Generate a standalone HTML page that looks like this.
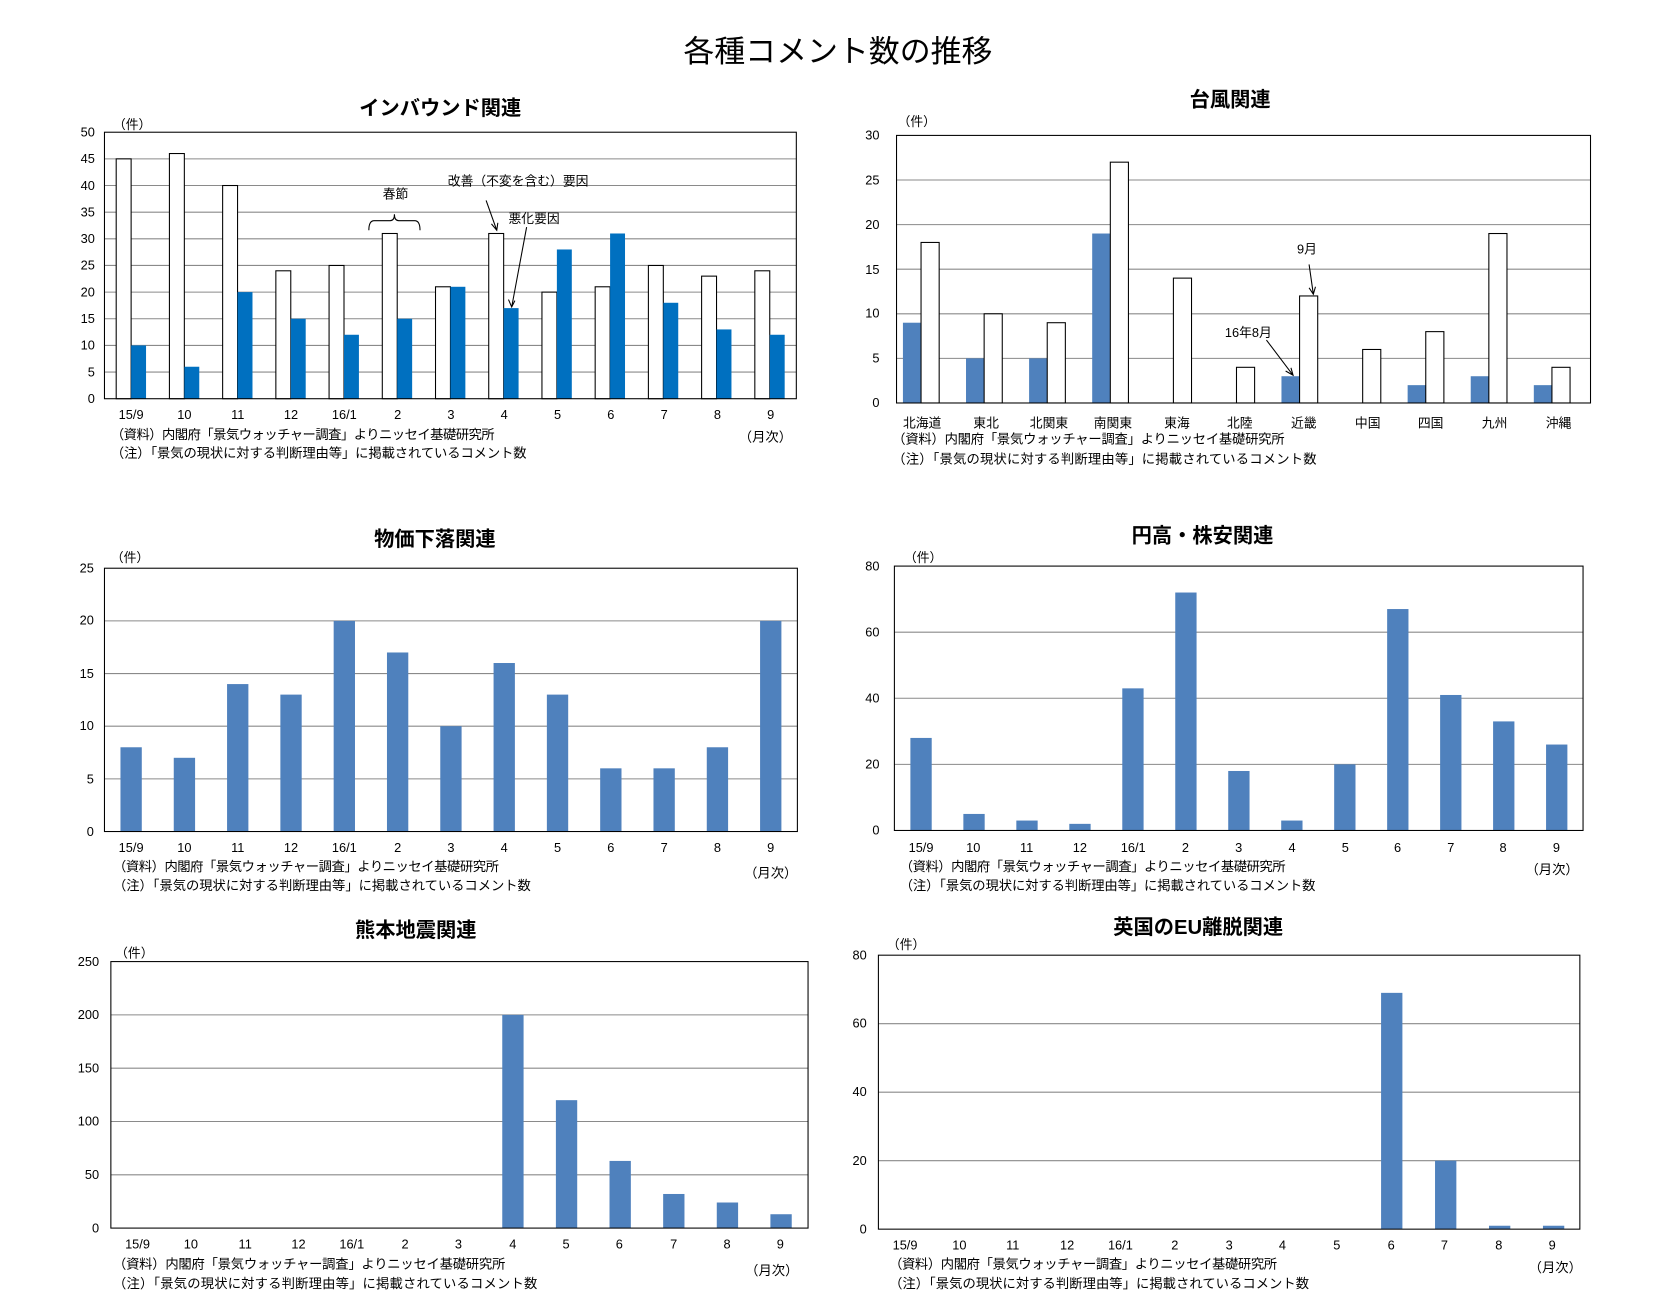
<!DOCTYPE html>
<html><head><meta charset="utf-8">
<style>
html,body{margin:0;padding:0;background:#fff;}
svg{display:block;}
text{font-family:"Liberation Sans","Noto Sans CJK JP",sans-serif;fill:#000;}
.t{font-size:12px;}
.n{font-size:12.5px;}
.h{font-size:19px;font-weight:bold;}
</style></head><body>
<svg id="s" width="1663" height="1315" viewBox="4 0 1560 1233.5" xmlns="http://www.w3.org/2000/svg">
<rect x="0" width="1570" height="1233.5" fill="#fff"/>
<g id="g"></g>
<text x="790" y="58" font-size="29" text-anchor="middle">各種コメント数の推移</text>

<!-- Chart 1 -->
<text class="h" x="417" y="108" text-anchor="middle">インバウンド関連</text>
<text class="t" x="110" y="121">（件）</text>
<g class="t" text-anchor="end">
<text x="93" y="378">0</text><text x="93" y="353">5</text><text x="93" y="328">10</text><text x="93" y="303">15</text><text x="93" y="278">20</text><text x="93" y="253">25</text><text x="93" y="228">30</text><text x="93" y="203">35</text><text x="93" y="178">40</text><text x="93" y="153">45</text><text x="93" y="128">50</text></g>
<g class="t" text-anchor="middle">
<text x="127" y="393">15/9</text><text x="177" y="393">10</text><text x="227" y="393">11</text><text x="277" y="393">12</text><text x="327" y="393">16/1</text><text x="377" y="393">2</text><text x="427" y="393">3</text><text x="477" y="393">4</text><text x="527" y="393">5</text><text x="577" y="393">6</text><text x="627" y="393">7</text><text x="677" y="393">8</text><text x="727" y="393">9</text></g>
<text class="n" x="108" y="412" textLength="360">（資料）内閣府「景気ウォッチャー調査」よりニッセイ基礎研究所</text>
<text class="n" x="108" y="429" textLength="390">（注）「景気の現状に対する判断理由等」に掲載されているコメント数</text>
<text class="n" x="697" y="414">（月次）</text>
<text class="t" x="375" y="186" text-anchor="middle">春節</text>
<path d="M350,216 Q350,207 355,207 L370,207 Q374,207 374,201 Q374,207 378,207 L393,207 Q398,207 398,216" fill="none" stroke="#000" stroke-width="1"/>
<text class="t" x="490" y="174" text-anchor="middle">改善（不変を含む）要因</text>
<text class="t" x="505" y="209" text-anchor="middle">悪化要因</text>
<path d="M460,188 L470,216 M465,210 L470,216 L471,209" fill="none" stroke="#000" stroke-width="1"/>
<path d="M498,213 L484,288 M481,281 L484,288 L487,282" fill="none" stroke="#000" stroke-width="1"/>

<!-- Chart 2 -->
<text class="h" x="1158" y="100" text-anchor="middle">台風関連</text>
<text class="t" x="846" y="118">（件）</text>
<g class="t" text-anchor="end">
<text x="829" y="382">0</text><text x="829" y="340">5</text><text x="829" y="298">10</text><text x="829" y="257">15</text><text x="829" y="215">20</text><text x="829" y="173">25</text><text x="829" y="131">30</text></g>
<g class="t" text-anchor="middle">
<text x="869" y="401">北海道</text><text x="929" y="401">東北</text><text x="988" y="401">北関東</text><text x="1048" y="401">南関東</text><text x="1108" y="401">東海</text><text x="1167" y="401">北陸</text><text x="1227" y="401">近畿</text><text x="1287" y="401">中国</text><text x="1346" y="401">四国</text><text x="1406" y="401">九州</text><text x="1466" y="401">沖縄</text></g>
<text class="n" x="841" y="416" textLength="368">（資料）内閣府「景気ウォッチャー調査」よりニッセイ基礎研究所</text>
<text class="n" x="841" y="435" textLength="398">（注）「景気の現状に対する判断理由等」に掲載されているコメント数</text>
<text class="t" x="1230" y="238" text-anchor="middle">9月</text>
<text class="t" x="1175" y="316" text-anchor="middle">16年8月</text>
<path d="M1232,248 L1236,276 M1232,270 L1236,276 L1238,269" fill="none" stroke="#000" stroke-width="1"/>
<path d="M1192,319 L1217,352 M1210,348 L1217,352 L1215,345" fill="none" stroke="#000" stroke-width="1"/>

<!-- Chart 3 -->
<text class="h" x="412" y="512" text-anchor="middle">物価下落関連</text>
<text class="t" x="108" y="527">（件）</text>
<g class="t" text-anchor="end">
<text x="92" y="784">0</text><text x="92" y="735">5</text><text x="92" y="685">10</text><text x="92" y="636">15</text><text x="92" y="586">20</text><text x="92" y="537">25</text></g>
<g class="t" text-anchor="middle">
<text x="127" y="799">15/9</text><text x="177" y="799">10</text><text x="227" y="799">11</text><text x="277" y="799">12</text><text x="327" y="799">16/1</text><text x="377" y="799">2</text><text x="427" y="799">3</text><text x="477" y="799">4</text><text x="527" y="799">5</text><text x="577" y="799">6</text><text x="627" y="799">7</text><text x="677" y="799">8</text><text x="727" y="799">9</text></g>
<text class="n" x="110" y="817" textLength="362">（資料）内閣府「景気ウォッチャー調査」よりニッセイ基礎研究所</text>
<text class="n" x="110" y="835" textLength="392">（注）「景気の現状に対する判断理由等」に掲載されているコメント数</text>
<text class="n" x="702" y="823">（月次）</text>

<!-- Chart 4 -->
<text class="h" x="1132" y="509" text-anchor="middle">円高・株安関連</text>
<text class="t" x="852" y="527">（件）</text>
<g class="t" text-anchor="end">
<text x="829" y="783">0</text><text x="829" y="721">20</text><text x="829" y="659">40</text><text x="829" y="597">60</text><text x="829" y="535">80</text></g>
<g class="t" text-anchor="middle">
<text x="868" y="799">15/9</text><text x="917" y="799">10</text><text x="967" y="799">11</text><text x="1017" y="799">12</text><text x="1067" y="799">16/1</text><text x="1116" y="799">2</text><text x="1166" y="799">3</text><text x="1216" y="799">4</text><text x="1266" y="799">5</text><text x="1315" y="799">6</text><text x="1365" y="799">7</text><text x="1414" y="799">8</text><text x="1464" y="799">9</text></g>
<text class="n" x="848" y="817" textLength="362">（資料）内閣府「景気ウォッチャー調査」よりニッセイ基礎研究所</text>
<text class="n" x="848" y="835" textLength="390">（注）「景気の現状に対する判断理由等」に掲載されているコメント数</text>
<text class="n" x="1435" y="820">（月次）</text>

<!-- Chart 5 -->
<text class="h" x="394" y="879" text-anchor="middle">熊本地震関連</text>
<text class="t" x="112" y="898">（件）</text>
<g class="t" text-anchor="end">
<text x="97" y="1156">0</text><text x="97" y="1106">50</text><text x="97" y="1056">100</text><text x="97" y="1006">150</text><text x="97" y="956">200</text><text x="97" y="906">250</text></g>
<g class="t" text-anchor="middle">
<text x="133" y="1171">15/9</text><text x="183" y="1171">10</text><text x="234" y="1171">11</text><text x="284" y="1171">12</text><text x="334" y="1171">16/1</text><text x="384" y="1171">2</text><text x="434" y="1171">3</text><text x="485" y="1171">4</text><text x="535" y="1171">5</text><text x="585" y="1171">6</text><text x="636" y="1171">7</text><text x="686" y="1171">8</text><text x="736" y="1171">9</text></g>
<text class="n" x="110" y="1190" textLength="368">（資料）内閣府「景気ウォッチャー調査」よりニッセイ基礎研究所</text>
<text class="n" x="110" y="1208" textLength="398">（注）「景気の現状に対する判断理由等」に掲載されているコメント数</text>
<text class="n" x="703" y="1196">（月次）</text>

<!-- Chart 6 -->
<text class="h" x="1128" y="876" text-anchor="middle">英国のEU離脱関連</text>
<text class="t" x="836" y="890">（件）</text>
<g class="t" text-anchor="end">
<text x="817" y="1157">0</text><text x="817" y="1093">20</text><text x="817" y="1028">40</text><text x="817" y="964">60</text><text x="817" y="900">80</text></g>
<g class="t" text-anchor="middle">
<text x="853" y="1172">15/9</text><text x="904" y="1172">10</text><text x="954" y="1172">11</text><text x="1005" y="1172">12</text><text x="1055" y="1172">16/1</text><text x="1106" y="1172">2</text><text x="1157" y="1172">3</text><text x="1207" y="1172">4</text><text x="1258" y="1172">5</text><text x="1309" y="1172">6</text><text x="1359" y="1172">7</text><text x="1410" y="1172">8</text><text x="1460" y="1172">9</text></g>
<text class="n" x="838" y="1190" textLength="364">（資料）内閣府「景気ウォッチャー調査」よりニッセイ基礎研究所</text>
<text class="n" x="838" y="1208" textLength="394">（注）「景気の現状に対する判断理由等」に掲載されているコメント数</text>
<text class="n" x="1438" y="1193">（月次）</text>
</svg>
<script>
var g=document.getElementById('g'),NS='http://www.w3.org/2000/svg';
function el(t,a){var e=document.createElementNS(NS,t);for(var k in a)e.setAttribute(k,a[k]);g.appendChild(e);return e;}
function chart(x0,x1,yT,yB,max,step,series){
  var n=series[0].vals.length,cw=(x1-x0)/n,sc=(yB-yT)/max;
  for(var v=step;v<max;v+=step){var y=yB-v*sc;el('line',{x1:x0,x2:x1,y1:y,y2:y,stroke:'#8a8a8a','stroke-width':1});}
  series.forEach(function(s){s.vals.forEach(function(v,i){if(!v)return;var h=v*sc;
    el('rect',{x:x0+i*cw+s.off,y:yB-h,width:s.w,height:h,fill:s.fill,stroke:s.stroke||'none','stroke-width':1});});});
  el('rect',{x:x0,y:yT,width:x1-x0,height:yB-yT,fill:'none',stroke:'#000','stroke-width':1});
}
var B='#4F81BD',B1='#0070C0';
chart(102,751,124,374,50,5,[
 {vals:[45,46,40,24,25,31,21,31,20,21,25,23,24],off:11,w:14,fill:'#fff',stroke:'#000'},
 {vals:[10,6,20,15,12,15,21,17,28,31,18,13,12],off:25,w:14,fill:B1}]);
chart(845,1496,127,378,30,5,[
 {vals:[9,5,5,19,0,0,3,0,2,3,2],off:6,w:17,fill:B},
 {vals:[18,10,9,27,14,4,12,6,8,19,4],off:23,w:17,fill:'#fff',stroke:'#000'}]);
chart(102,752,533,780,25,5,[{vals:[8,7,14,13,20,17,10,16,13,6,6,8,20],off:15,w:20,fill:B}]);
chart(843,1489,531,779,80,20,[{vals:[28,5,3,2,43,72,18,3,20,67,41,33,26],off:15,w:20,fill:B}]);
chart(108,762,902,1152,250,50,[{vals:[0,0,0,0,0,0,0,200,120,63,32,24,13],off:15,w:20,fill:B}]);
chart(828,1486,896,1153,80,20,[{vals:[0,0,0,0,0,0,0,0,0,69,20,1,1],off:16,w:20,fill:B}]);
</script>
</body></html>
